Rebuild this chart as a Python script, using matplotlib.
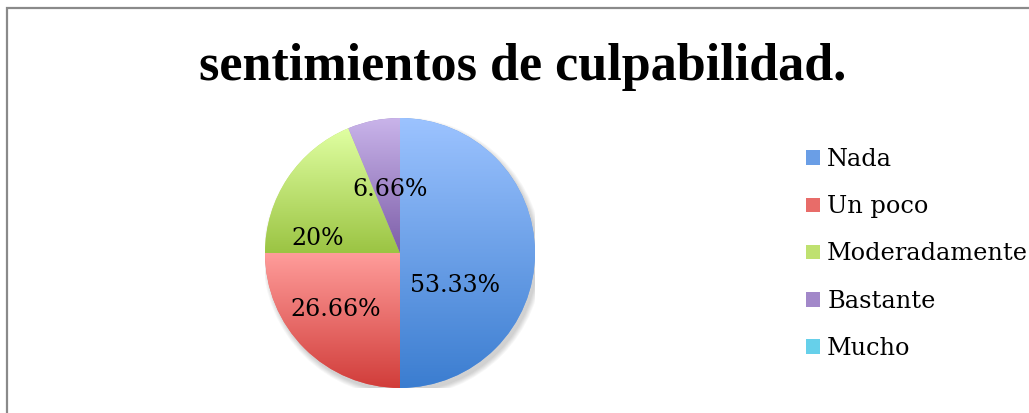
import numpy as np
import matplotlib.pyplot as plt
from matplotlib.colors import LinearSegmentedColormap
from matplotlib.patches import Patch, Rectangle, Circle

# data (slices as drawn, labels as printed)
categories = ["Nada", "Un poco", "Moderadamente", "Bastante", "Mucho"]
slice_sizes = [8, 4, 3, 1, 0]
pct_labels = ["53.33%", "26.66%", "20%", "6.66%", ""]

top_colors = ["#9cc3ff", "#ff9d9b", "#e0ffa2", "#c9b4ea", "#93ecff"]
bottom_colors = ["#3b7dd0", "#d13d3a", "#9bc443", "#7d5ea8", "#39b2d0"]
legend_colors = ["#6a9ee6", "#e86c69", "#bfe170", "#a288c9", "#66d0ea"]

# label placement inside the pie (radius units)
label_pos = [(0.41, -0.24), (-0.48, -0.42), (-0.61, 0.11), (-0.07, 0.47)]

W, H = 1029, 413
fig = plt.figure(figsize=(W / 100, H / 100), dpi=100)

# outer frame, cut off on the right and bottom
fig.patches.append(Rectangle((7 / W, -0.5), 2, 1.5 - 8 / H, fill=False,
                             edgecolor="#8a8a8a", linewidth=1.6,
                             transform=fig.transFigure))

fig.text(0.508, (H - 80) / H, "sentimientos de culpabilidad.",
         ha="center", va="baseline", fontsize=37.5, fontweight="bold",
         family="Liberation Serif")

cx, cy, r = 400, H - 253, 135
ax = fig.add_axes([(cx - r) / W, (cy - r) / H, 2 * r / W, 2 * r / H])

# soft shadow
for k in range(6):
    ax.add_patch(Circle((0.02, -0.03), 1.0 + k * 0.007, color="black",
                        alpha=0.03, linewidth=0, zorder=0))

wedges, _ = ax.pie(slice_sizes, startangle=90, counterclock=False, radius=1,
                   colors=legend_colors, wedgeprops=dict(linewidth=0))

grad = np.linspace(0, 1, 256).reshape(-1, 1)
for w, c_top, c_bot in zip(wedges, top_colors, bottom_colors):
    if w.theta2 - w.theta1 <= 0:
        continue
    ang = np.radians(np.linspace(w.theta1, w.theta2, 200))
    ys = np.concatenate([np.sin(ang), [0]])
    cmap = LinearSegmentedColormap.from_list("g", [c_bot, c_top])
    im = ax.imshow(grad, extent=(-1, 1, ys.min(), ys.max()), cmap=cmap,
                   aspect="auto", origin="lower", zorder=2)
    im.set_clip_path(w)

for (x, y), txt in zip(label_pos, pct_labels):
    ax.text(x, y, txt, ha="center", va="center", fontsize=17,
            family="DejaVu Serif", zorder=5)

ax.set_xlim(-1, 1)
ax.set_ylim(-1, 1)
ax.set_aspect("equal")
ax.axis("off")

handles = [Patch(facecolor=c, edgecolor="none") for c in legend_colors]
fig.legend(handles, categories, loc="center left",
           bbox_to_anchor=(806 / W, (H - 254) / H), frameon=False,
           prop=dict(family="DejaVu Serif", size=17.3), handlelength=0.58,
           handleheight=0.58, handletextpad=0.3, labelspacing=1.0,
           borderpad=0, borderaxespad=0)

fig.savefig("out.png", dpi=100)
